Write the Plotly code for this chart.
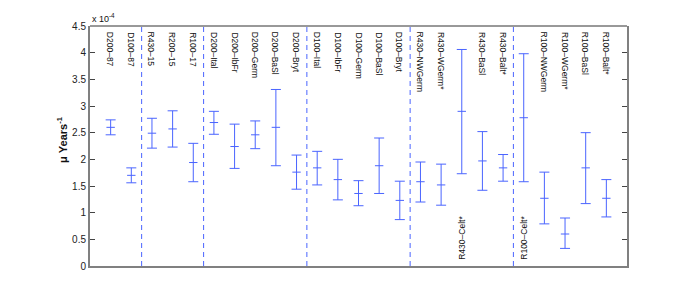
import plotly.graph_objects as go

# Category labels (x positions 1..25)
categories = [
    "D200–87", "D100–87",
    "R430–15", "R200–15", "R100–17",
    "D200–Ital", "D200–IbFr", "D200–Germ", "D200–BaSl", "D200–Bryt",
    "D100–Ital", "D100–IbFr", "D100–Germ", "D100–BaSl", "D100–Bryt",
    "R430–NWGerm", "R430–WGerm*", "R430–Celt*", "R430–BaSl", "R430–Balt*",
    "R100–Celt*", "R100–NWGerm", "R100–WGerm*", "R100–BaSl", "R100–Balt*",
]
# values in units of 1e-4 years^-1
center = [2.60, 1.70, 2.49, 2.57, 1.94, 2.69, 2.24, 2.46, 2.60, 1.76,
          1.84, 1.62, 1.36, 1.88, 1.23, 1.58, 1.52, 2.90, 1.97, 1.84,
          2.78, 1.27, 0.60, 1.84, 1.27]
upper = [2.74, 1.84, 2.77, 2.91, 2.30, 2.90, 2.66, 2.72, 3.31, 2.08,
         2.15, 2.00, 1.60, 2.40, 1.59, 1.95, 1.91, 4.06, 2.52, 2.09,
         3.98, 1.76, 0.90, 2.50, 1.62]
lower = [2.46, 1.56, 2.21, 2.23, 1.58, 2.47, 1.83, 2.20, 1.88, 1.44,
         1.52, 1.24, 1.13, 1.36, 0.87, 1.20, 1.14, 1.73, 1.42, 1.59,
         1.58, 0.79, 0.33, 1.17, 0.92]
bottom_labelled = ["R430–Celt*", "R100–Celt*"]
group_separators = [2.5, 5.5, 10.5, 15.5, 20.5]
y_ticks = [0, 0.5, 1, 1.5, 2, 2.5, 3, 3.5, 4, 4.5]

xpos = list(range(1, len(categories) + 1))
blue = "#4a64ff"

fig = go.Figure()
fig.add_trace(go.Scatter(
    x=xpos, y=center, mode="markers",
    marker=dict(symbol="line-ew", size=6, line=dict(color=blue, width=1)),
    error_y=dict(type="data", symmetric=False,
                 array=[u - c for u, c in zip(upper, center)],
                 arrayminus=[c - l for c, l in zip(center, lower)],
                 color=blue, thickness=1, width=5),
    showlegend=False, hoverinfo="skip",
))

shapes = []
for s in group_separators:
    shapes.append(dict(type="line", xref="x", yref="y", x0=s, x1=s, y0=0, y1=4.5,
                       line=dict(color=blue, width=1, dash="5px,4px")))
# top border thin dark
shapes.append(dict(type="line", xref="paper", yref="paper", x0=0, x1=1, y0=1, y1=1,
                   line=dict(color="#333333", width=1)))

annotations = []
for x, lab in zip(xpos, categories):
    if lab in bottom_labelled:
        annotations.append(dict(x=x, y=0, xref="x", yref="y", text=lab, showarrow=False,
                                textangle=-90, yanchor="bottom", xanchor="center", yshift=4,
                                font=dict(size=8.5, color="#111111")))
    else:
        annotations.append(dict(x=x, y=4.5, xref="x", yref="y", text=lab, showarrow=False,
                                textangle=90, yanchor="top", xanchor="center", yshift=-4,
                                font=dict(size=8.5, color="#111111")))
annotations.append(dict(x=0, y=1, xref="paper", yref="paper", text="x 10<sup>-4</sup>",
                        showarrow=False, xanchor="left", yanchor="bottom", yshift=0,
                        font=dict(size=9, color="#111111")))
annotations.append(dict(x=0, y=0.525, xref="paper", yref="paper",
                        text="<b>μ Years<sup>-1</sup></b>", showarrow=False,
                        textangle=-90, xanchor="center", yanchor="middle", xshift=-28,
                        font=dict(size=11, color="#111111")))

# The page body adds an 8px offset, so the figure is sized to fit the window.
fig.update_layout(
    width=684, height=291,
    margin=dict(l=82, r=65, t=14, b=33),
    paper_bgcolor="white", plot_bgcolor="white",
    font=dict(family="Liberation Sans, Arial, sans-serif", color="#111111"),
    shapes=shapes, annotations=annotations,
    xaxis=dict(range=[0, 26], showgrid=False, zeroline=False, showticklabels=False,
               ticks="", showline=True, linecolor="#808080", linewidth=2),
    yaxis=dict(range=[0, 4.5], tickvals=y_ticks, ticktext=[f"{v:g}" for v in y_ticks],
               showgrid=False, zeroline=False, ticks="inside", ticklen=5,
               tickcolor="#444444", showline=True, linecolor="#808080", linewidth=2,
               mirror="ticks", tickfont=dict(size=10, color="#222222")),
)
fig.write_html("out.html")
